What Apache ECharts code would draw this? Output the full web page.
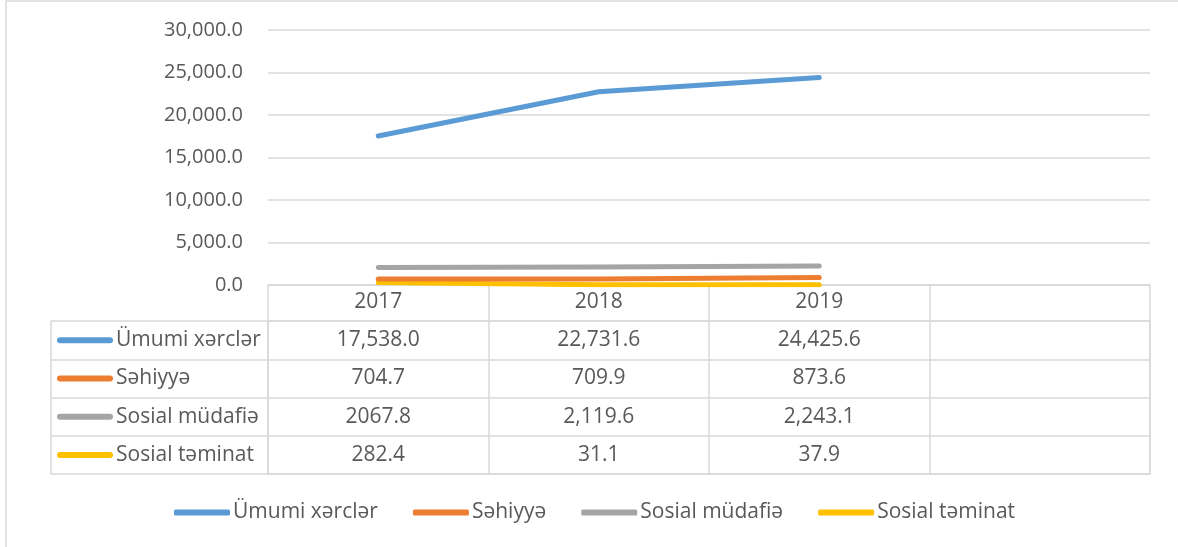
<!DOCTYPE html>
<html>
<head>
<meta charset="utf-8">
<script src="https://cdn.jsdelivr.net/npm/echarts@6/dist/echarts.min.js"></script>
<style>
  html, body { margin: 0; padding: 0; background: #fff; }
  #main { width: 1178px; height: 547px; }
</style>
</head>
<body>
<div id="main"></div>
<script>
// data
var years = ['2017', '2018', '2019', ''];
var seriesNames = ['Ümumi xərclər', 'Səhiyyə', 'Sosial müdafiə', 'Sosial təminat'];
var umumi = [17538.0, 22731.6, 24425.6];
var sehiyye = [704.7, 709.9, 873.6];
var mudafie = [2067.8, 2119.6, 2243.1];
var teminat = [282.4, 31.1, 37.9];
var yTicks = [0, 5000, 10000, 15000, 20000, 25000, 30000];
// cells the source table shows without a thousands separator: [row, col]
var plainCells = [[2, 0]];

(function () {
  var colors = ['#5b9bd5', '#ed7d31', '#a5a5a5', '#ffc000'];
  var values = [umumi, sehiyye, mudafie, teminat];
  var font = '"Open Sans", "Noto Sans", sans-serif';
  var fs = 21;      // table, legend, category labels
  var fsAxis = 20;  // value axis labels
  var textColor = '#595959';
  var lineColor = '#d9d9d9';

  function fmt(v, grouping) {
    return v.toLocaleString('en-US', {
      minimumFractionDigits: 1, maximumFractionDigits: 1, useGrouping: grouping
    });
  }
  function isPlain(r, c) {
    return plainCells.some(function (p) { return p[0] === r && p[1] === c; });
  }

  var myChart = echarts.init(document.getElementById('main'));

  // cells for the data table
  var cells = [];
  values.forEach(function (arr, r) {
    arr.forEach(function (v, c) { cells.push([c, r]); });
  });

  var rich = { t: { fontSize: fs, color: textColor, fontFamily: font, padding: [0, 0, 0, 3] } };
  colors.forEach(function (c, i) {
    rich['l' + i] = { width: 56, height: 6, backgroundColor: c, borderRadius: 3 };
  });

  var lineSeries = seriesNames.map(function (name, i) {
    return {
      name: name,
      type: 'line',
      xAxisIndex: 0,
      yAxisIndex: 0,
      data: values[i],
      showSymbol: false,
      symbol: 'none',
      lineStyle: { width: 5, color: colors[i], cap: 'round', join: 'round' },
      itemStyle: { color: colors[i] },
      z: 3 + (i === 1 ? 1 : 0)
    };
  });

  var option = {
    backgroundColor: '#fff',
    animation: false,
    textStyle: { fontFamily: font },
    graphic: [{
      type: 'rect',
      shape: { x: 6, y: 1, width: 2000, height: 2000 },
      style: { fill: null, stroke: lineColor, lineWidth: 1.5 },
      silent: true
    }],
    legend: {
      data: seriesNames,
      left: 169,
      top: 497,
      icon: 'roundRect',
      itemWidth: 56,
      itemHeight: 6,
      itemGap: 35,
      textStyle: { fontSize: fs, color: textColor, fontFamily: font, padding: [0, 0, 0, -2] }
    },
    grid: [
      { left: 268, right: 28, top: 30, height: 255 },
      { left: 268, right: 28, top: 321, height: 153, show: true, borderColor: lineColor, borderWidth: 1.5 }
    ],
    xAxis: [{
      type: 'category',
      gridIndex: 0,
      data: years,
      boundaryGap: true,
      axisLine: { lineStyle: { color: lineColor, width: 1.5 } },
      axisTick: { show: true, length: 36, interval: 0, lineStyle: { color: lineColor, width: 1.5 } },
      axisLabel: { margin: 7, fontSize: fs, color: textColor, fontFamily: font, interval: 0 },
      splitLine: { show: false }
    }, {
      type: 'category',
      gridIndex: 1,
      data: years,
      axisLine: { show: false },
      axisTick: { show: false },
      axisLabel: { show: false },
      splitLine: { show: true, interval: 0, lineStyle: { color: lineColor, width: 1.5 } }
    }],
    yAxis: [{
      type: 'value',
      gridIndex: 0,
      min: yTicks[0],
      max: yTicks[yTicks.length - 1],
      interval: yTicks[1] - yTicks[0],
      axisLine: { show: false },
      axisTick: { show: false },
      axisLabel: {
        margin: 25, fontSize: fsAxis, color: textColor, fontFamily: font,
        formatter: function (v) { return fmt(v, true); }
      },
      splitLine: { lineStyle: { color: lineColor, width: 1.5 } }
    }, {
      type: 'category',
      gridIndex: 1,
      inverse: true,
      data: seriesNames,
      axisLine: { show: false },
      axisTick: { show: true, length: 217, interval: 0, lineStyle: { color: lineColor, width: 1.5 } },
      axisLabel: {
        align: 'left',
        margin: 211,
        interval: 0,
        formatter: function (v, i) { return '{l' + i + '|}{t|' + v + '}'; },
        rich: rich
      },
      splitLine: { show: true, interval: 0, lineStyle: { color: lineColor, width: 1.5 } }
    }, {
      type: 'category',
      gridIndex: 1,
      inverse: true,
      data: seriesNames,
      position: 'left',
      offset: 217,
      axisLine: { show: true, lineStyle: { color: lineColor, width: 1.5 } },
      axisTick: { show: false },
      axisLabel: { show: false }
    }],
    series: lineSeries.concat([{
      type: 'custom',
      xAxisIndex: 1,
      yAxisIndex: 1,
      data: cells,
      silent: true,
      renderItem: function (params, api) {
        var c = api.value(0), r = api.value(1);
        var p = api.coord([c, r]);
        return {
          type: 'text',
          x: p[0],
          y: p[1],
          style: {
            text: fmt(values[r][c], !isPlain(r, c)),
            fill: textColor,
            font: fs + 'px ' + font,
            align: 'center',
            verticalAlign: 'middle'
          }
        };
      }
    }])
  };

  myChart.setOption(option);
})();
</script>
</body>
</html>
